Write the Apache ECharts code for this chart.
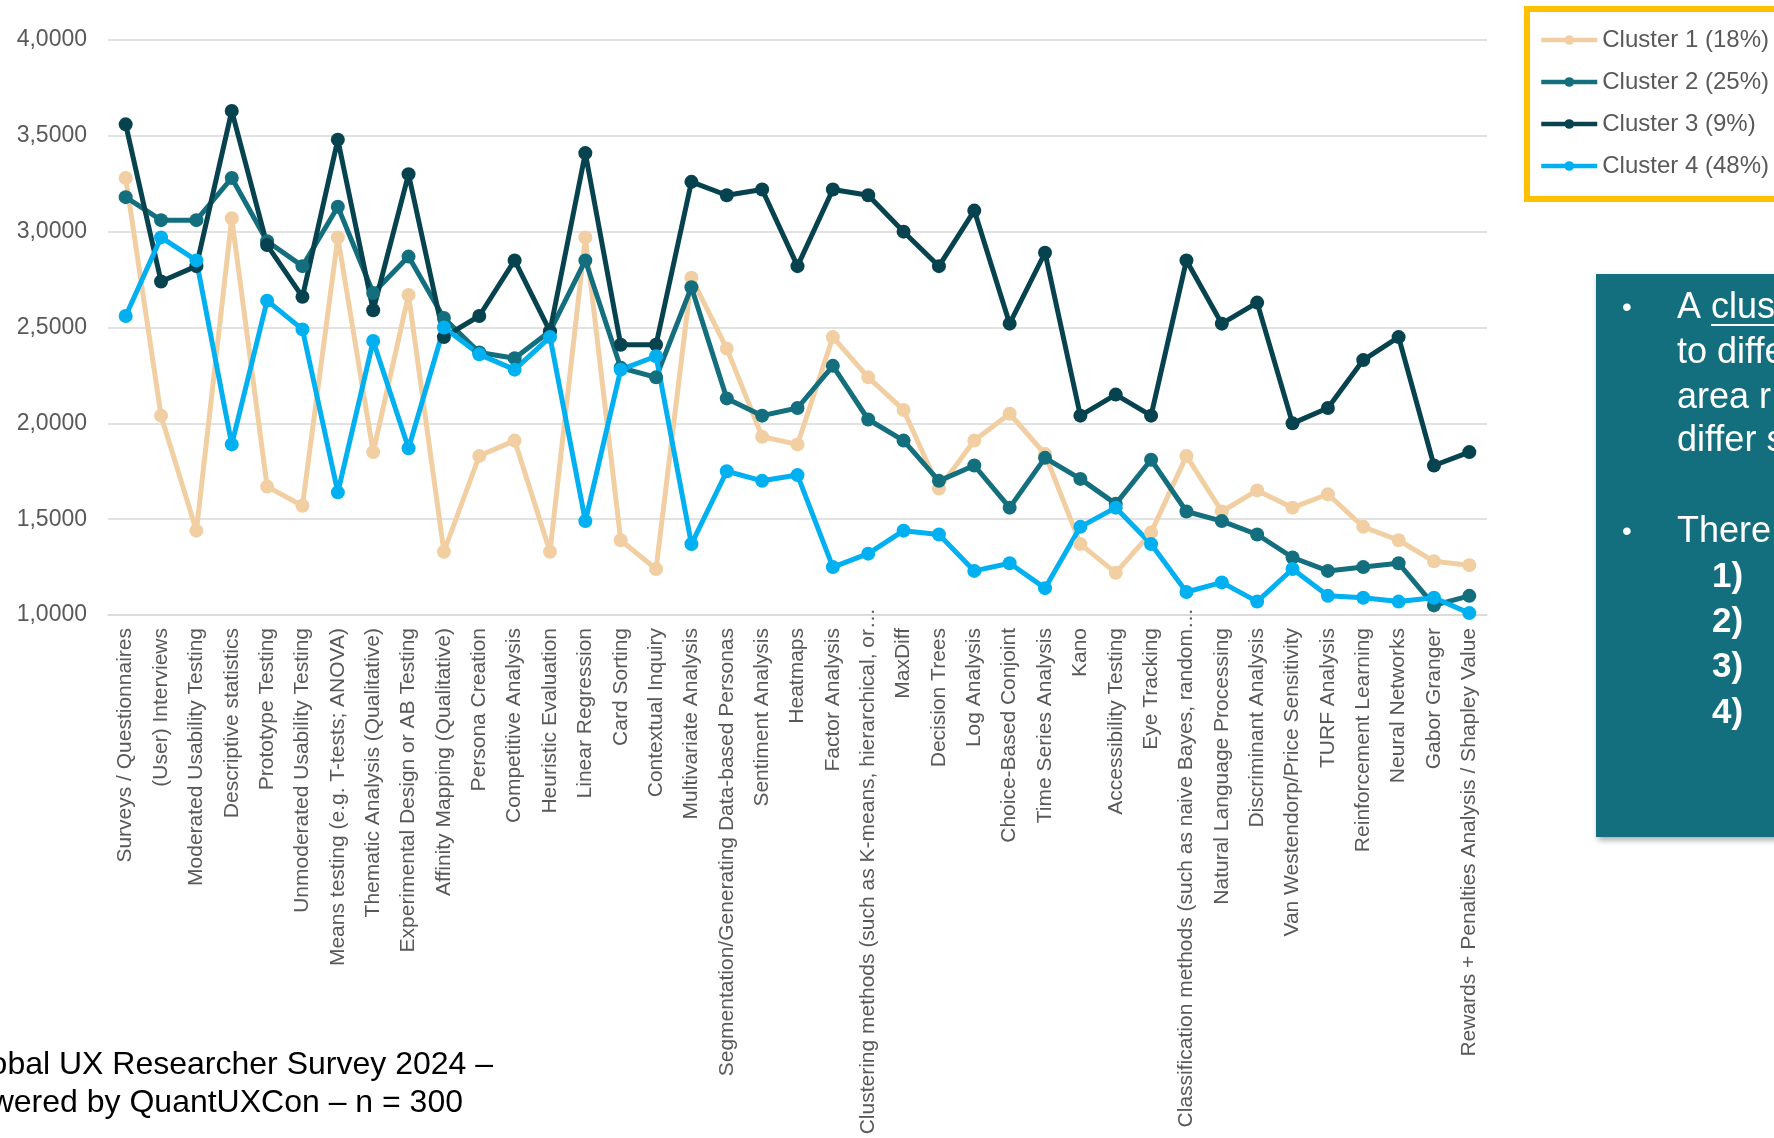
<!DOCTYPE html>
<html>
<head>
<meta charset="utf-8">
<title>UX methods by cluster</title>
<script src="https://cdn.jsdelivr.net/npm/echarts@6/dist/echarts.min.js"></script>
<style>
  html, body { margin: 0; padding: 0; background: #fff; }
  #chart { width: 1774px; height: 1138px; }
</style>
</head>
<body>
<div id="chart"></div>
<script>
// categories (x axis)
const methods = [
  'Surveys / Questionnaires', '(User) Interviews', 'Moderated Usability Testing',
  'Descriptive statistics', 'Prototype Testing', 'Unmoderated Usability Testing',
  'Means testing (e.g. T-tests; ANOVA)', 'Thematic Analysis (Qualitative)',
  'Experimental Design or AB Testing', 'Affinity Mapping (Qualitative)',
  'Persona Creation', 'Competitive Analysis', 'Heuristic Evaluation', 'Linear Regression',
  'Card Sorting', 'Contextual Inquiry', 'Multivariate Analysis',
  'Segmentation/Generating Data-based Personas', 'Sentiment Analysis', 'Heatmaps',
  'Factor Analysis', 'Clustering methods (such as K-means, hierarchical, or…',
  'MaxDiff', 'Decision Trees', 'Log Analysis', 'Choice-Based Conjoint',
  'Time Series Analysis', 'Kano', 'Accessibility Testing', 'Eye Tracking',
  'Classification methods (such as naive Bayes, random…', 'Natural Language Processing',
  'Discriminant Analysis', 'Van Westendorp/Price Sensitivity', 'TURF Analysis',
  'Reinforcement Learning', 'Neural Networks', 'Gabor Granger',
  'Rewards + Penalties Analysis / Shapley Value'
]

// mean scores per cluster
const cluster1 = [3.28, 2.04, 1.44, 3.07, 1.67, 1.57, 2.97, 1.85, 2.67, 1.33,
  1.83, 1.91, 1.33, 2.97, 1.39, 1.24, 2.76, 2.39, 1.93, 1.89,
  2.45, 2.24, 2.07, 1.66, 1.91, 2.05, 1.84, 1.37, 1.22, 1.43,
  1.83, 1.54, 1.65, 1.56, 1.63, 1.46, 1.39, 1.28, 1.26]
const cluster2 = [3.18, 3.06, 3.06, 3.28, 2.95, 2.82, 3.13, 2.68, 2.87, 2.55,
  2.37, 2.34, 2.48, 2.85, 2.29, 2.24, 2.71, 2.13, 2.04, 2.08,
  2.30, 2.02, 1.91, 1.70, 1.78, 1.56, 1.82, 1.71, 1.58, 1.81,
  1.54, 1.49, 1.42, 1.30, 1.23, 1.25, 1.27, 1.05, 1.10]
const cluster3 = [3.56, 2.74, 2.82, 3.63, 2.93, 2.66, 3.48, 2.59, 3.30, 2.45,
  2.56, 2.85, 2.48, 3.41, 2.41, 2.41, 3.26, 3.19, 3.22, 2.82,
  3.22, 3.19, 3.00, 2.82, 3.11, 2.52, 2.89, 2.04, 2.15, 2.04,
  2.85, 2.52, 2.63, 2.00, 2.08, 2.33, 2.45, 1.78, 1.85]
const cluster4 = [2.56, 2.97, 2.85, 1.89, 2.64, 2.49, 1.64, 2.43, 1.87, 2.50,
  2.36, 2.28, 2.45, 1.49, 2.28, 2.35, 1.37, 1.75, 1.70, 1.73,
  1.25, 1.32, 1.44, 1.42, 1.23, 1.27, 1.14, 1.46, 1.56, 1.37,
  1.12, 1.17, 1.07, 1.24, 1.10, 1.09, 1.07, 1.09, 1.01]

const seriesNames = ['Cluster 1 (18%)', 'Cluster 2 (25%)', 'Cluster 3 (9%)', 'Cluster 4 (48%)']
const seriesColors = ['#f1cfa2', '#136f7e', '#07434f', '#00b0f0']
const seriesData = [cluster1, cluster2, cluster3, cluster4]

const font = "'Liberation Sans', Arial, sans-serif"
const chart = echarts.init(document.getElementById('chart'))

// the two truncated labels sit higher, their dots poke above the axis
const categoryData = methods.map((m) =>
  m.endsWith('…') ? { value: m, textStyle: { padding: [0, -20, 0, 0] } } : m)

const series = seriesNames.map((name, i) => ({
  name,
  type: 'line',
  data: seriesData[i],
  symbol: 'circle',
  symbolSize: 14,
  lineStyle: { color: seriesColors[i], width: 5 },
  itemStyle: { color: seriesColors[i] },
  emphasis: { disabled: true }
}))

const panelLines = [
  { text: 'A cluster', y: 308 },
  { text: 'to differ', y: 353 },
  { text: 'area r', y: 398 },
  { text: 'differ s', y: 441 },
  { text: 'There', y: 532 }
]
const panelNums = ['1)', '2)', '3)', '4)']

const graphic = [
  // legend frame
  { type: 'rect', left: 1524, top: 6, z: 10,
    shape: { width: 300, height: 190 },
    style: { fill: 'none', stroke: '#ffc000', lineWidth: 6 } },
  // side panel
  { type: 'rect', left: 1596, top: 274, z: 10,
    shape: { width: 220, height: 563 },
    style: { fill: '#136f7e', shadowBlur: 6, shadowOffsetX: 2, shadowOffsetY: 3, shadowColor: 'rgba(0,0,0,0.35)' } },
  ...panelLines.map((l) => ({
    type: 'text', x: 1677, y: l.y, z: 11,
    style: { text: l.text, fill: '#fff', font: `36px ${font}`, textVerticalAlign: 'middle' }
  })),
  ...[308, 532].map((y) => ({
    type: 'text', x: 1622, y, z: 11,
    style: { text: '•', fill: '#fff', font: `28px ${font}`, textVerticalAlign: 'middle' }
  })),
  ...panelNums.map((t, i) => ({
    type: 'text', x: 1712, y: 577 + i * 45.3, z: 11,
    style: { text: t, fill: '#fff', font: `bold 35px ${font}`, textVerticalAlign: 'middle' }
  })),
  // underline under "cluster"
  { type: 'line', z: 11, shape: { x1: 1711, y1: 325, x2: 1780, y2: 325 },
    style: { stroke: '#fff', lineWidth: 2 } },
  // source note
  { type: 'text', x: 493, y: 1065, z: 11,
    style: { text: 'Global UX Researcher Survey 2024 –', fill: '#000',
      font: `32px ${font}`, textAlign: 'right', textVerticalAlign: 'middle' } },
  { type: 'text', x: 463, y: 1103, z: 11,
    style: { text: 'Powered by QuantUXCon – n = 300', fill: '#000',
      font: `32px ${font}`, textAlign: 'right', textVerticalAlign: 'middle' } }
]

chart.setOption({
  animation: false,
  backgroundColor: '#fff',
  color: seriesColors,
  grid: { left: 108, right: 287, top: 40, bottom: 523, containLabel: false, outerBoundsMode: 'none' },
  legend: {
    data: seriesNames,
    orient: 'vertical',
    left: 1534,
    top: 23,
    itemWidth: 56,
    itemHeight: 12,
    itemGap: 18,
    lineStyle: { width: 4.5 },
    textStyle: { color: '#595959', fontSize: 24, fontFamily: font }
  },
  xAxis: {
    type: 'category',
    data: categoryData,
    boundaryGap: true,
    axisTick: { show: false },
    axisLine: { lineStyle: { color: '#d9d9d9', width: 1.5 } },
    axisLabel: { rotate: 90, interval: 0, margin: 13, color: '#595959', fontSize: 21, fontFamily: font }
  },
  yAxis: {
    type: 'value',
    min: 1,
    max: 4,
    interval: 0.5,
    axisLine: { show: false },
    axisTick: { show: false },
    splitLine: { lineStyle: { color: '#d9d9d9', width: 1.5 } },
    axisLabel: {
      margin: 21, color: '#595959', fontSize: 23, fontFamily: font,
      formatter: (v) => v.toFixed(4).replace('.', ',')
    }
  },
  graphic,
  series
})
</script>
</body>
</html>
